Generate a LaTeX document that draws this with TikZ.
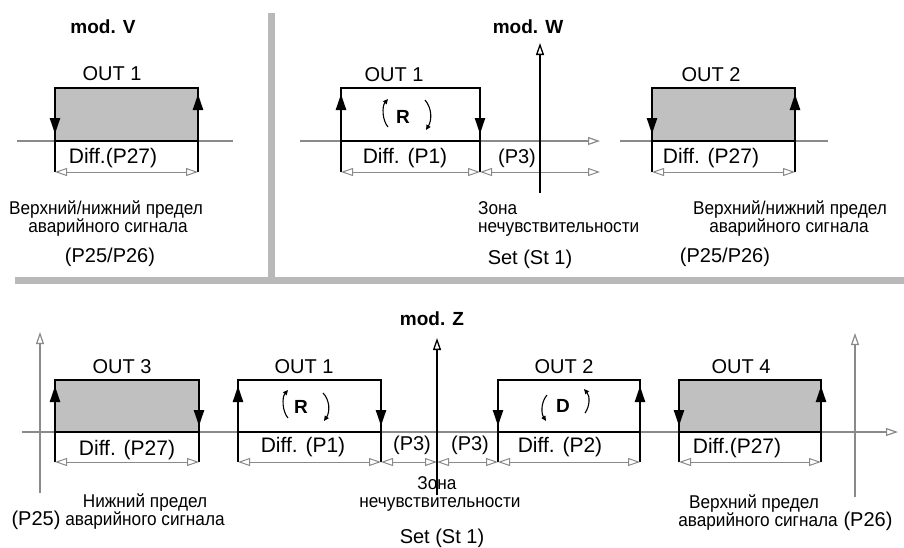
\documentclass[tikz,border=0pt]{standalone}
\usepackage{fontspec}
\setmainfont{Liberation Sans}
\newfontfamily\rufont[FakeStretch=0.93]{Liberation Sans}
\usetikzlibrary{arrows.meta}
\definecolor{divgray}{HTML}{B9B9B9}
\definecolor{axgray}{HTML}{8A8A8A}
\definecolor{boxfill}{HTML}{C0C0C0}
\tikzset{
  lbl/.style={inner sep=0pt, anchor=base, font=\fontsize{20}{20}\selectfont},
  modlbl/.style={inner sep=0pt, anchor=base, font=\fontsize{19}{19}\selectfont\bfseries},
  difflbl/.style={inner sep=0pt, anchor=base, font=\fontsize{21}{21}\selectfont},
  rulbl/.style={inner sep=0pt, anchor=base, font=\fontsize{18.5}{16}\rufont},
  rotlbl/.style={inner sep=0pt, font=\fontsize{19}{19}\selectfont\bfseries},
  divider/.style={draw=divgray, line width=7pt},
  axisg/.style={draw=axgray, line width=1.2pt},
  axisk/.style={draw=black, line width=1.3pt},
  axtip/.style={-{Triangle[open, length=12pt, width=8pt]}},
  dimln/.style={draw=axgray, line width=1pt, {Triangle[open,length=12pt,width=8pt]}-{Triangle[open,length=12pt,width=8pt]}},
  boxln/.style={draw=black, line width=2.4pt},
  extln/.style={draw=black, line width=1.2pt},
  edgearrow/.style={draw=black, line width=2.4pt, -{Triangle[length=16pt,width=10pt]}},
  rotarrow/.style={draw=black, line width=1.1pt, -{Triangle[length=5pt,width=4.5pt]}},
}
\newcommand{\drawoutbox}[7]{%
  \coordinate (#1bl) at (#2,#5); \coordinate (#1tl) at (#2,#4);
  \coordinate (#1tr) at (#3,#4); \coordinate (#1br) at (#3,#5);
  \coordinate (#1dl) at (#2,#6); \coordinate (#1dr) at (#3,#6);
  \fill[#7] (#1bl) rectangle (#1tr);
  \draw[extln] (#1bl) -- (#1dl) (#1br) -- (#1dr);
  \draw[boxln] (#1bl) -- (#1tl) -- (#1tr) -- (#1br) -- cycle;
  \draw[dimln] (#1dl) -- (#1dr);
}
\begin{document}
\begin{tikzpicture}[x=1pt,y=-1pt]
\useasboundingbox (0,0) rectangle (904,547);
% dividers
\coordinate (dv1) at (271,13); \coordinate (dv2) at (271,279);
\coordinate (dh1) at (15,280); \coordinate (dh2) at (904,280);
\draw[divider] (dv1) -- (dv2);
\draw[divider] (dh1) -- (dh2);

% ---------------- mod V ----------------
\coordinate (axV1) at (17,141); \coordinate (axV2) at (233,141);
\draw[axisg] (axV1) -- (axV2);
\drawoutbox{v}{55}{198}{88}{141}{172}{boxfill}
\draw[edgearrow] (55,110) -- (55,134);
\draw[edgearrow] (198,119) -- (198,94);
\node[modlbl] (modV) at (103,33) {mod. V};
\node[lbl] (outV) at (112,80) {OUT 1};
\node[difflbl] (diffV) at (113,163) {Diff.(P27)};
\node[rulbl] (limV1) at (106,214) {Верхний/нижний предел};
\node[rulbl] (limV2) at (108,232) {аварийного сигнала};
\node[lbl] (pV) at (110,262) {(P25/P26)};

% ---------------- mod W ----------------
\coordinate (axW1) at (300,141); \coordinate (axW2) at (600,141);
\draw[axisg, axtip] (axW1) -- (axW2);
\coordinate (axW3) at (620,141); \coordinate (axW4) at (828,141);
\draw[axisg] (axW3) -- (axW4);
\drawoutbox{wa}{341}{480}{88}{141}{172}{white}
\drawoutbox{wb}{652}{795}{88}{141}{172}{boxfill}
\coordinate (p3Wend) at (600,172);
\draw[dimln] (wadr) -- (p3Wend);
\coordinate (setW1) at (540,193); \coordinate (setW2) at (540,43);
\draw[axisk, axtip] (setW1) -- (setW2);
\draw[edgearrow] (341,119) -- (341,94);
\draw[edgearrow] (480,110) -- (480,134);
\draw[edgearrow] (652,110) -- (652,134);
\draw[edgearrow] (795,119) -- (795,94);
\node[rotlbl] (rW) at (403,117) {R};
\draw[rotarrow] (388,127) .. controls (382,120) and (382,106) .. (388,99);
\draw[rotarrow] (425,100) .. controls (432,108) and (432,120) .. (426,130);
\node[modlbl] (modW) at (528,33) {mod. W};
\node[lbl] (outW1) at (394,81) {OUT 1};
\node[difflbl] (diffW1) at (405,163) {Diff. (P1)};
\node[lbl] (p3W) at (517,163) {(P3)};
\node[rulbl, anchor=base west] (zoneW1) at (478,214) {Зона};
\node[rulbl, anchor=base west] (zoneW2) at (478,232) {нечувствительности};
\node[lbl] (setW) at (530,264) {Set (St 1)};
\node[lbl] (outW2) at (711,81) {OUT 2};
\node[difflbl] (diffW2) at (711,163) {Diff. (P27)};
\node[rulbl] (limW1) at (790,214) {Верхний/нижний предел};
\node[rulbl] (limW2) at (789,232) {аварийного сигнала};
\node[lbl] (pW) at (725,262) {(P25/P26)};

% ---------------- mod Z ----------------
\coordinate (axZ1) at (22,432); \coordinate (axZ2) at (898,432);
\draw[axisg, axtip] (axZ1) -- (axZ2);
\coordinate (lowA1) at (40,493); \coordinate (lowA2) at (40,332);
\draw[axisg, axtip] (lowA1) -- (lowA2);
\coordinate (upA1) at (855,497); \coordinate (upA2) at (855,333);
\draw[axisg, axtip] (upA1) -- (upA2);
\drawoutbox{za}{55}{199}{380}{432}{462}{boxfill}
\drawoutbox{zb}{238}{381}{380}{432}{462}{white}
\drawoutbox{zc}{498}{640}{380}{432}{462}{white}
\drawoutbox{zd}{679}{821}{380}{432}{462}{boxfill}
\coordinate (zmid) at (437,462);
\draw[dimln] (zbdr) -- (zmid);
\draw[dimln] (zmid) -- (zcdl);
\coordinate (setZ1) at (437,495); \coordinate (setZ2) at (437,338);
\draw[axisk, axtip] (setZ1) -- (setZ2);
\draw[edgearrow] (55,411) -- (55,386);
\draw[edgearrow] (199,402) -- (199,426);
\draw[edgearrow] (238,411) -- (238,386);
\draw[edgearrow] (381,402) -- (381,426);
\draw[edgearrow] (498,402) -- (498,426);
\draw[edgearrow] (640,411) -- (640,386);
\draw[edgearrow] (679,402) -- (679,426);
\draw[edgearrow] (821,411) -- (821,386);
\node[rotlbl] (rZ) at (301,407) {R};
\draw[rotarrow] (288,418) .. controls (282,411) and (282,397) .. (288,390);
\draw[rotarrow] (323,393) .. controls (330,400) and (330,412) .. (324,421);
\node[rotlbl] (dZ) at (563,406) {D};
\draw[rotarrow] (547,395) .. controls (541,402) and (541,413) .. (546,421);
\draw[rotarrow] (585,413) .. controls (590,406) and (590,396) .. (584,389);
\node[modlbl] (modZ) at (432,325) {mod. Z};
\node[lbl] (out3) at (122,373) {OUT 3};
\node[lbl] (out1) at (304,373) {OUT 1};
\node[lbl] (out2) at (564,373) {OUT 2};
\node[lbl] (out4) at (741,373) {OUT 4};
\node[difflbl] (diff3) at (127,455) {Diff. (P27)};
\node[difflbl] (diff1) at (303,452) {Diff. (P1)};
\node[difflbl] (diff2) at (560,452) {Diff. (P2)};
\node[difflbl] (diff4) at (737,453) {Diff.(P27)};
\node[lbl] (p3a) at (412,450) {(P3)};
\node[lbl] (p3b) at (470,450) {(P3)};
\node[rulbl] (lowL1) at (145,507) {Нижний предел};
\node[rulbl] (lowL2) at (145,525) {аварийного сигнала};
\node[lbl] (p25) at (36,525) {(P25)};
\node[rulbl] (zoneZ1) at (437,489) {Зона};
\node[rulbl] (zoneZ2) at (440,507) {нечувствительности};
\node[lbl] (setZ) at (442,543) {Set (St 1)};
\node[rulbl] (upL1) at (754,508) {Верхний предел};
\node[rulbl] (upL2) at (758,526) {аварийного сигнала};
\node[lbl] (p26) at (868,526) {(P26)};
\end{tikzpicture}
\end{document}
